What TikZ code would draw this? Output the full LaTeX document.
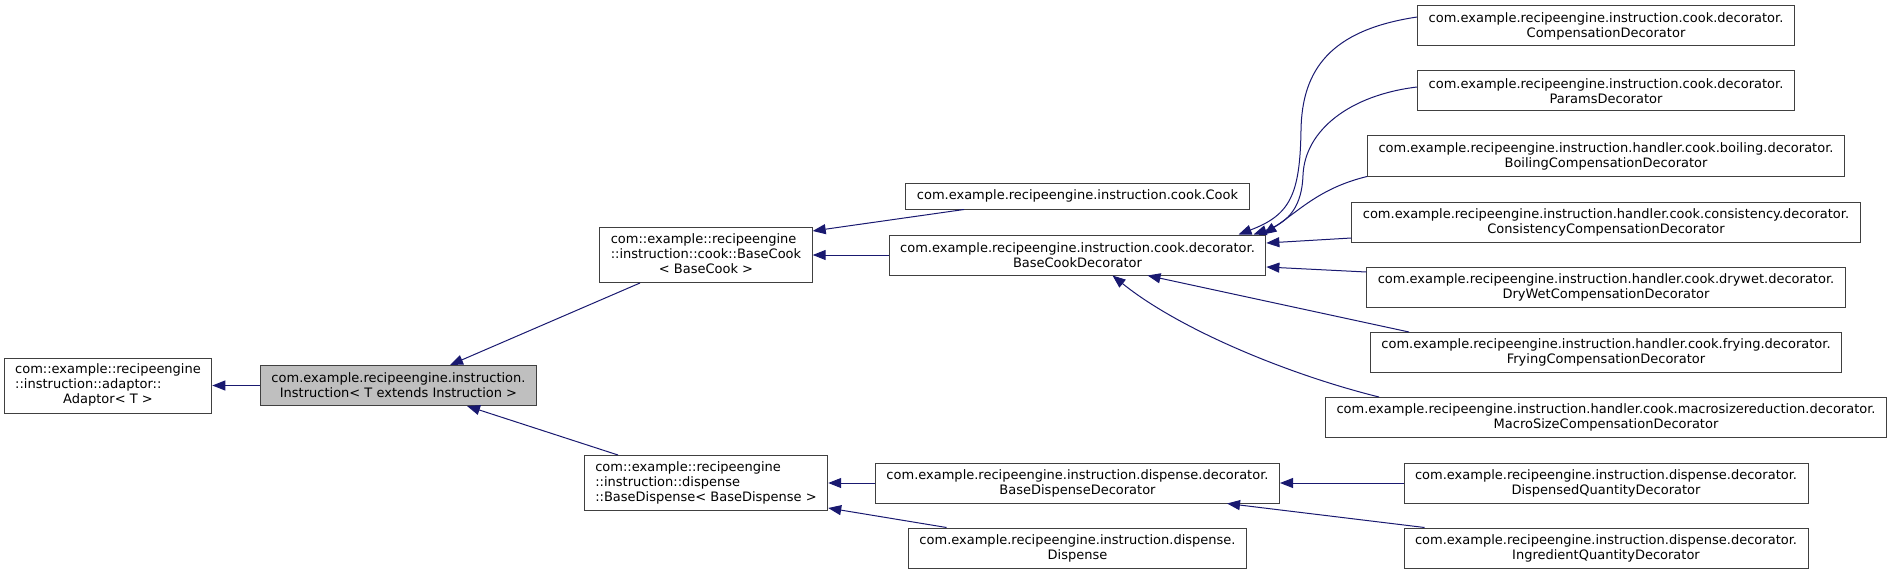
\documentclass[tikz,border=0pt]{standalone}
\usepackage{fontspec}
\setmainfont{DejaVu Sans}
\usepackage{tikz}
\usetikzlibrary{positioning, arrows.meta}

\definecolor{edgeblue}{HTML}{191970}
\definecolor{curgray}{HTML}{BFBFBF}

\begin{document}
\begin{tikzpicture}[
    x=1pt, y=-1pt, ->, >={Triangle[length=13pt, width=10pt]}, node distance=65pt, on grid,
    link/.style={edgeblue, line width=1pt},
    every edge/.style={draw, link},
    cls/.style={rectangle, draw=black!75, fill=white, line width=1pt, inner xsep=11pt, inner ysep=0pt,
        minimum height=40pt, align=center, font=\fontsize{13}{15}\selectfont},
    cur/.style={cls, fill=curgray},
    oneline/.style={minimum height=26pt},
    threeline/.style={minimum height=55pt}
]
    \useasboundingbox (0,0) rectangle (1892,575);

    \node[cur] (instr) at (398.5,385.5) {com.example.recipeengine.instruction.\\Instruction< T extends Instruction >};
    \node[cls, threeline] (adaptor) [left=290.5pt of instr]
        {\begin{tabular}{@{}l@{}}com::example::recipeengine\\::instruction::adaptor::\\\multicolumn{1}{@{}c@{}}{Adaptor< T >}\end{tabular}};
    \node[cls, threeline] (basecook) [above right=130.5pt and 307.5pt of instr]
        {\begin{tabular}{@{}l@{}}com::example::recipeengine\\::instruction::cook::BaseCook\\\multicolumn{1}{@{}c@{}}{< BaseCook >}\end{tabular}};
    \node[cls, threeline, align=left] (basedisp) [below right=97.5pt and 307.5pt of instr]
        {com::example::recipeengine\\::instruction::dispense\\::BaseDispense< BaseDispense >};

    \node[cls] (bcdec) [right=371.5pt of basecook] {com.example.recipeengine.instruction.cook.decorator.\\BaseCookDecorator};
    \node[cls, oneline] (cook) [above=59pt of bcdec] {com.example.recipeengine.instruction.cook.Cook};
    \node[cls] (bddec) [right=371.5pt of basedisp] {com.example.recipeengine.instruction.dispense.decorator.\\BaseDispenseDecorator};
    \node[cls] (dispense) [below=of bddec] {com.example.recipeengine.instruction.dispense.\\Dispense};

    \node[cls] (dq) [right=528.5pt of bddec] {com.example.recipeengine.instruction.dispense.decorator.\\DispensedQuantityDecorator};
    \node[cls] (ingr) [below=of dq] {com.example.recipeengine.instruction.dispense.decorator.\\IngredientQuantityDecorator};
    \node[cls] (macro) [above=65.5pt of dq] {com.example.recipeengine.instruction.handler.cook.macrosizereduction.decorator.\\MacroSizeCompensationDecorator};
    \node[cls] (frying) [above=of macro] {com.example.recipeengine.instruction.handler.cook.frying.decorator.\\FryingCompensationDecorator};
    \node[cls] (drywet) [above=65.5pt of frying] {com.example.recipeengine.instruction.handler.cook.drywet.decorator.\\DryWetCompensationDecorator};
    \node[cls] (consist) [above=of drywet] {com.example.recipeengine.instruction.handler.cook.consistency.decorator.\\ConsistencyCompensationDecorator};
    \node[cls] (boiling) [above=66pt of consist] {com.example.recipeengine.instruction.handler.cook.boiling.decorator.\\BoilingCompensationDecorator};
    \node[cls] (params) [above=of boiling] {com.example.recipeengine.instruction.cook.decorator.\\ParamsDecorator};
    \node[cls] (comp) [above=of params] {com.example.recipeengine.instruction.cook.decorator.\\CompensationDecorator};

    \path
        (instr) edge (adaptor)
        ([xshift=-66pt]basecook.south) edge ([xshift=51.5pt]instr.north)
        ([xshift=-88pt]basedisp.north) edge ([xshift=68.5pt]instr.south)
        ([xshift=-113.5pt]cook.south) edge ([yshift=24pt]basecook.east)
        (bcdec) edge (basecook)
        (bddec) edge (basedisp)
        ([xshift=-131pt]dispense.north) edge ([yshift=-25pt]basedisp.east)
        (dq) edge (bddec)
        ([xshift=-181.5pt]ingr.north) edge ([xshift=149.5pt]bddec.south)
        ([yshift=-16pt]consist.west) edge ([yshift=12pt]bcdec.east)
        ([yshift=15pt]drywet.west) edge ([yshift=-12pt]bcdec.east)
        ([xshift=-197pt]frying.north) edge ([xshift=70pt]bcdec.south);

    \draw[link] ([yshift=9pt]comp.west) .. controls (1330,30) and (1302,70) .. (1301,130)
        .. controls (1300,195) and (1290,215) .. ([xshift=161pt]bcdec.north);
    \draw[link] ([yshift=4pt]params.west) .. controls (1350,95) and (1305,130) .. (1303,175)
        .. controls (1302,205) and (1290,222) .. ([xshift=176pt]bcdec.north);
    \draw[link] (boiling.south west) .. controls (1320,188) and (1300,210) .. ([xshift=186pt]bcdec.north);
    \draw[link] ([xshift=-227pt]macro.north) .. controls (1290,375) and (1180,330) .. ([xshift=35pt]bcdec.south);
\end{tikzpicture}
\end{document}
